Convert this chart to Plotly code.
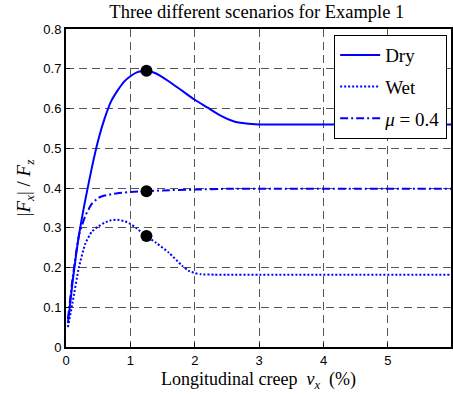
import plotly.graph_objects as go

# ---- data ----
dry_x = [0.03, 0.1, 0.2, 0.3, 0.4, 0.5, 0.6, 0.7, 0.8, 0.9, 1.0, 1.1, 1.25, 1.4, 1.6, 1.8, 2.0, 2.2, 2.4, 2.6, 2.8, 3.0, 3.5, 4.0, 5.0, 6.0]
dry_y = [0.06, 0.16, 0.28, 0.37, 0.45, 0.52, 0.575, 0.618, 0.645, 0.667, 0.681, 0.691, 0.695, 0.688, 0.668, 0.645, 0.622, 0.602, 0.582, 0.568, 0.562, 0.56, 0.56, 0.56, 0.56, 0.56]

wet_x = [0.03, 0.1, 0.2, 0.3, 0.4, 0.5, 0.6, 0.7, 0.8, 0.9, 1.0, 1.1, 1.25, 1.4, 1.6, 1.8, 1.9, 2.0, 2.1, 2.3, 2.5, 3.0, 6.0]
wet_y = [0.05, 0.11, 0.2, 0.26, 0.29, 0.303, 0.313, 0.319, 0.32, 0.317, 0.31, 0.298, 0.279, 0.262, 0.237, 0.205, 0.192, 0.186, 0.183, 0.182, 0.182, 0.182, 0.182]

mu_x = [0.03, 0.1, 0.2, 0.3, 0.4, 0.5, 0.6, 0.7, 0.8, 1.0, 1.25, 1.5, 2.0, 2.5, 3.0, 6.0]
mu_y = [0.07, 0.17, 0.28, 0.33, 0.36, 0.375, 0.381, 0.384, 0.387, 0.39, 0.392, 0.394, 0.396, 0.398, 0.398, 0.398]

peak_x = [1.25, 1.25, 1.25]
peak_y = [0.695, 0.392, 0.279]

x_ticks = [0, 1, 2, 3, 4, 5]
y_ticks = [0, 0.1, 0.2, 0.3, 0.4, 0.5, 0.6, 0.7, 0.8]

BLUE = "#0000FF"
SERIF = "Liberation Serif"
SANS = "Liberation Sans"

fig = go.Figure()
fig.add_trace(go.Scatter(x=dry_x, y=dry_y, mode="lines", name="Dry", legendgroup="a",
                         line=dict(color=BLUE, width=2, shape="spline", smoothing=0.5)))
fig.add_trace(go.Scatter(x=wet_x, y=wet_y, mode="lines", name="Wet", legendgroup="b",
                         line=dict(color=BLUE, width=2, dash="2px,2px", shape="spline", smoothing=0.5)))
fig.add_trace(go.Scatter(x=mu_x, y=mu_y, mode="lines", name="<i>μ</i> = 0.4", legendgroup="c",
                         line=dict(color=BLUE, width=2, dash="8px,3px,2px,3px", shape="spline", smoothing=0.5)))
fig.add_trace(go.Scatter(x=peak_x, y=peak_y, mode="markers", showlegend=False,
                         marker=dict(color="black", size=12)))

axis_common = dict(
    showline=True, linecolor="black", linewidth=2, mirror=True,
    showgrid=True, gridcolor="#555555", griddash="8px,5px", gridwidth=1,
    ticks="inside", ticklen=4, tickcolor="black",
    tickfont=dict(family=SANS, size=13, color="black"),
    zeroline=False,
)

fig.update_layout(
    width=453, height=396,
    margin=dict(l=66, r=0, t=29, b=49),
    paper_bgcolor="white", plot_bgcolor="white",
    font=dict(family=SERIF, color="black"),
    title=dict(text="Three different scenarios for Example 1",
               font=dict(family=SERIF, size=18.5, color="black"),
               x=0.567, xanchor="center", y=0.97, yanchor="middle"),
    xaxis=dict(range=[0, 5.98], tickvals=x_ticks, **axis_common,
               title=dict(text="Longitudinal creep  <i>ν</i><sub><i>x</i></sub>  (%)",
                          font=dict(family=SERIF, size=18, color="black"), standoff=6)),
    yaxis=dict(range=[0, 0.8], tickvals=y_ticks, **axis_common,
               title=dict(text="|<i>F</i><sub><i>x</i></sub>| / <i>F</i><sub><i>z</i></sub>",
                          font=dict(family=SERIF, size=19, color="black"), standoff=8)),
    legend=dict(x=0.99, y=0.981, xanchor="right", yanchor="top",
                bgcolor="white", bordercolor="black", borderwidth=1,
                font=dict(family=SERIF, size=19, color="black"),
                itemwidth=40, tracegroupgap=4),
    showlegend=True,
)

fig.add_annotation(x=6, y=0, xref="x", yref="paper", text="6", showarrow=False,
                   yanchor="top", yshift=-3,
                   font=dict(family=SANS, size=13, color="black"))

fig.write_html("out.html")
